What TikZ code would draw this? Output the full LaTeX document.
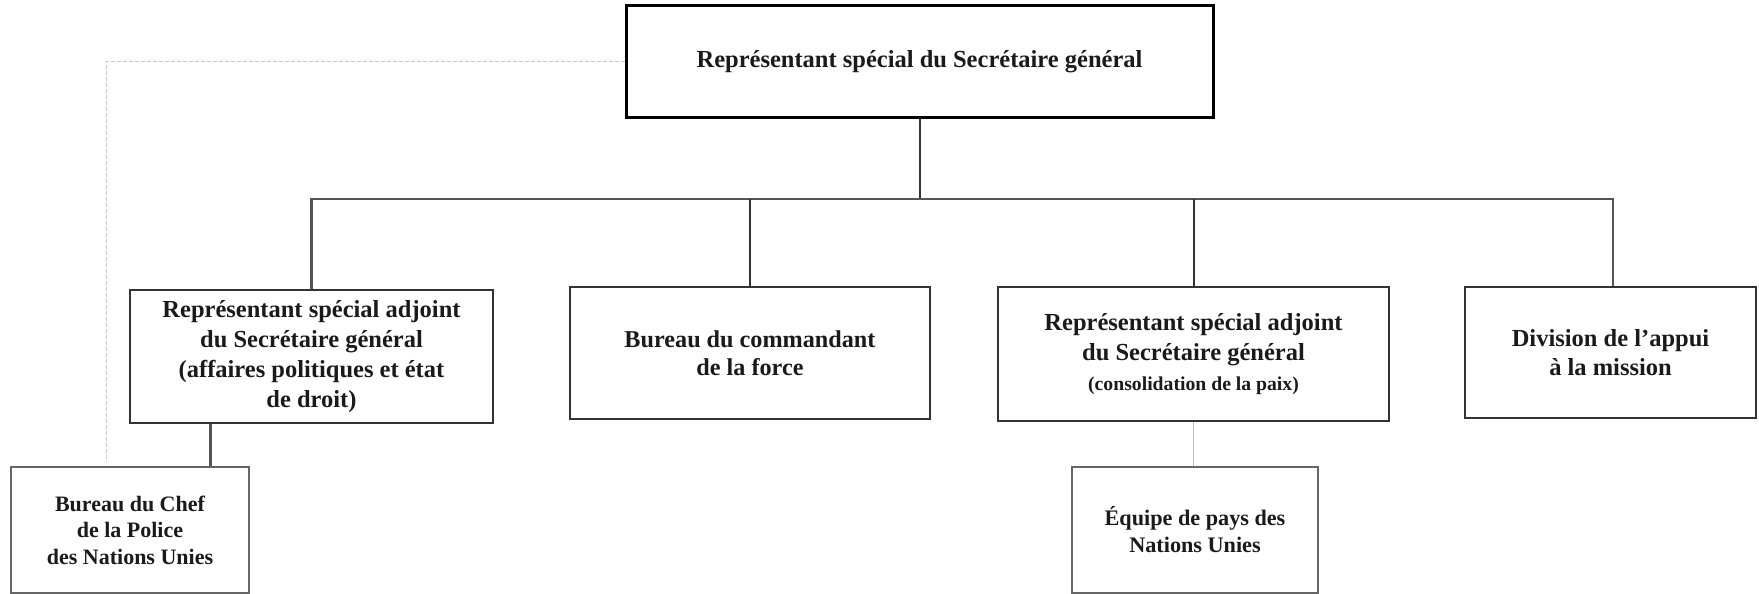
\documentclass[tikz,border=0pt]{standalone}
\usepackage{fontspec}
\setmainfont{Liberation Serif}
\usetikzlibrary{calc}
\definecolor{txt}{HTML}{1A1A1A}
\definecolor{edge}{HTML}{333333}
\definecolor{busc}{HTML}{555555}
\definecolor{thinc}{HTML}{666666}
\definecolor{lightc}{HTML}{BBBBBB}
\definecolor{dashc}{HTML}{C8C8C8}
\tikzset{
  boxbase/.style={rectangle, inner sep=0pt, align=center, text=txt, font=\bfseries\fontsize{24.5}{30}\selectfont},
  topbox/.style={boxbase, draw=black, line width=3pt},
  unitbox/.style={boxbase, draw=edge, line width=2.5pt},
  subbox/.style={boxbase, draw=thinc, line width=1.6pt, font=\bfseries\fontsize{22}{26.5}\selectfont},
  busline/.style={draw=busc, line width=2.5pt},
  vline/.style={draw=edge, line width=2pt},
  faintline/.style={draw=lightc, line width=1pt},
  dashline/.style={draw=dashc, line width=1pt, dashed, dash pattern=on 4pt off 2pt}
}
\begin{document}
\begin{tikzpicture}[x=1pt, y=-1pt]
\useasboundingbox (0,0) rectangle (1759,594);
\node[topbox, minimum width=587pt, minimum height=111pt] (top) at (919.5,61.5) {Représentant spécial du Secrétaire général};
\node[unitbox, minimum width=363pt, minimum height=133pt] (b1) at (311.5,356.5) {Représentant spécial adjoint\\du Secrétaire général\\(affaires politiques et état\\de droit)};
\node[unitbox, minimum width=360pt, minimum height=132pt, font=\bfseries\fontsize{24.2}{28}\selectfont] (b2) at (750,353) {Bureau du commandant\\de la force};
\node[unitbox, minimum width=391pt, minimum height=134pt] (b4) at (1193.5,354) {Représentant spécial adjoint\\du Secrétaire général\\{\fontsize{19.7}{27}\selectfont(consolidation de la paix)}};
\node[unitbox, minimum width=291pt, minimum height=131pt, font=\bfseries\fontsize{24.5}{29}\selectfont] (div) at (1610.5,352.5) {Division de l’appui\\à la mission};
\node[subbox, minimum width=238pt, minimum height=126pt] (chef) at (130,530) {Bureau du Chef\\de la Police\\des Nations Unies};
\node[subbox, minimum width=246pt, minimum height=126pt, font=\bfseries\fontsize{22.2}{27}\selectfont] (eq) at (1195,530) {Équipe de pays des\\Nations Unies};
\coordinate (j) at (919.5,199);
\draw[vline] (top.south) -- (j);
\draw[busline] (b1.north) |- (j) -| ([xshift=2.5pt]div.north);
\draw[vline] (b2.north) -- (b2.north |- j);
\draw[vline] (b4.north) -- (b4.north |- j);
\draw[busline, line width=3pt] ([xshift=-39pt]chef.north east |- b1.south) -- ([xshift=-39pt]chef.north east);
\draw[faintline] (b4.south) -- (b4.south |- eq.north);
\draw[dashline] (top.west) -| ([xshift=-24pt,yshift=4pt]chef.north);
\end{tikzpicture}
\end{document}
